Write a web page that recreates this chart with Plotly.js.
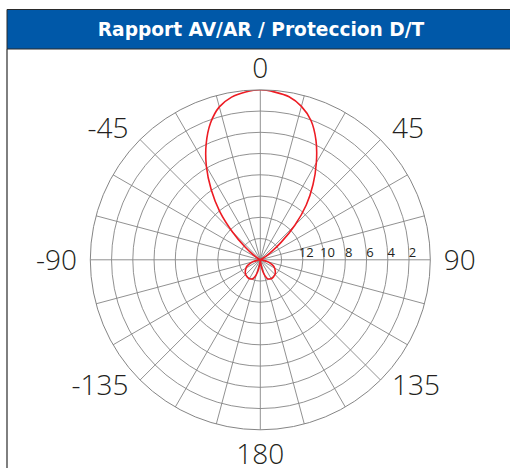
<!DOCTYPE html>
<html>
<head>
<meta charset="utf-8">
<script src="https://cdn.plot.ly/plotly-3.0.1.min.js"></script>
<style>html,body{margin:0;padding:0;background:#fff;}#chart{width:510px;height:468px;}</style>
</head>
<body>
<div id="chart"></div>
<script>
// Angles (degrees, 0 = front, clockwise) and attenuation (dB)
const theta = [-180,-175,-170,-165,-160,-155,-150,-145,-140,-135,-130,-125,-120,-115,-110,-105,-100,-90,-80,-70,-65,-60,-55,-50,-45,-40,-35,-30,-25,-20,-15,-10,-5,0,5,10,15,20,25,30,35,40,45,50,55,60,65,70,80,90,100,105,110,115,120,125,130,135,140,145,150,155,160,165,170,175,180];
const attenuation = [16,15.8,15.2,14.55,14.15,14.0,13.95,13.95,14.0,14.05,14.15,14.3,14.45,14.65,14.95,15.25,15.7,16,16,16,16,15.8,15.2,14.1,12.3,10.05,7.95,5.85,3.95,2.3,1.1,0.45,0.15,0,0.16,0.42,1.05,2.05,3.6,5.45,7.35,9.27,11.4,13.45,14.9,15.6,16,16,16,16,15.7,15.25,14.95,14.65,14.45,14.3,14.15,14.05,14.0,13.95,13.95,14.0,14.15,14.55,15.2,15.8,16];

// Axis labels
const angleTickVals = [0,15,30,45,60,75,90,105,120,135,150,165,180,195,210,225,240,255,270,285,300,315,330,345];
const angleLabels = {0:'0',45:'45',90:'90',135:'135',180:'180',225:'-135',270:'-90',315:'-45'};
const radialTickVals = [14,12,10,8,6,4,2];
const radialTickText = ['','12','10','8','6','4','2'];
const titleText = 'Rapport AV/AR / Proteccion D/T';

const W = 510, H = 468;
const cx = 260.3, cy = 259.8, R = 170;
const NB = '\u00a0';

// small spacing tweaks so the labels sit like the reference's
function angleText(v) {
  const t = angleLabels[v];
  if (!t) return '';
  if (v === 45 || v === 90) return NB + t;
  if (v === 315 || v === 270) return t + NB;
  if (v === 135) return NB + t + '<br>' + NB + '<br>' + NB + '<br>' + NB;
  if (v === 225) return t + NB + '<br>' + NB + '<br>' + NB + '<br>' + NB;
  return t;
}

const trace = {
  type: 'scatterpolar',
  mode: 'lines',
  theta: theta,
  r: attenuation,
  line: {color: '#ed1c24', width: 1.6, shape: 'spline', smoothing: 0.8},
  hoverinfo: 'skip'
};

const grid = '#858585';
const layout = {
  width: W, height: H,
  margin: {l: 0, r: 0, t: 0, b: 0},
  paper_bgcolor: '#ffffff',
  showlegend: false,
  title: {
    text: '<b>' + titleText + '</b>',
    x: 261 / W, xref: 'container', xanchor: 'center',
    y: 1 - 29.5 / H, yref: 'container', yanchor: 'middle',
    font: {family: '"DejaVu Sans", "Open Sans", sans-serif', size: 18.6, color: '#ffffff'}
  },
  shapes: [
    {type: 'rect', xref: 'paper', yref: 'paper', layer: 'below',
     x0: 7 / W, x1: 1.01, y0: 1 - 49 / H, y1: 1 - 9.5 / H,
     fillcolor: '#0058a8', line: {color: '#2a2a2a', width: 1}},
    {type: 'line', xref: 'paper', yref: 'paper', layer: 'below',
     x0: 7 / W, x1: 7 / W, y0: -0.01, y1: 1 - 49 / H,
     line: {color: '#2a2a2a', width: 1.2}}
  ],
  polar: {
    domain: {x: [(cx - R) / W, (cx + R) / W], y: [(H - cy - R) / H, (H - cy + R) / H]},
    bgcolor: 'rgba(0,0,0,0)',
    angularaxis: {
      direction: 'clockwise', rotation: 90,
      tickmode: 'array',
      tickvals: angleTickVals,
      ticktext: angleTickVals.map(angleText),
      ticks: '',
      showline: true, linecolor: grid, linewidth: 1,
      showgrid: true, gridcolor: grid, gridwidth: 0.9,
      tickfont: {family: '"Open Sans", Lato, sans-serif', size: 28, color: '#231f20', weight: 300}
    },
    radialaxis: {
      range: [16, 0],
      angle: 0,
      tickangle: 0,
      side: 'counterclockwise',
      tickmode: 'array',
      tickvals: radialTickVals,
      ticktext: radialTickText.map(t => t ? NB + NB + t : ''),
      ticks: '',
      showline: false,
      showgrid: true, gridcolor: grid, gridwidth: 0.9,
      tickfont: {family: '"Open Sans", Lato, sans-serif', size: 13, color: '#231f20'}
    }
  }
};

Plotly.newPlot('chart', [trace], layout, {staticPlot: true, displayModeBar: false});
</script>
</body>
</html>
